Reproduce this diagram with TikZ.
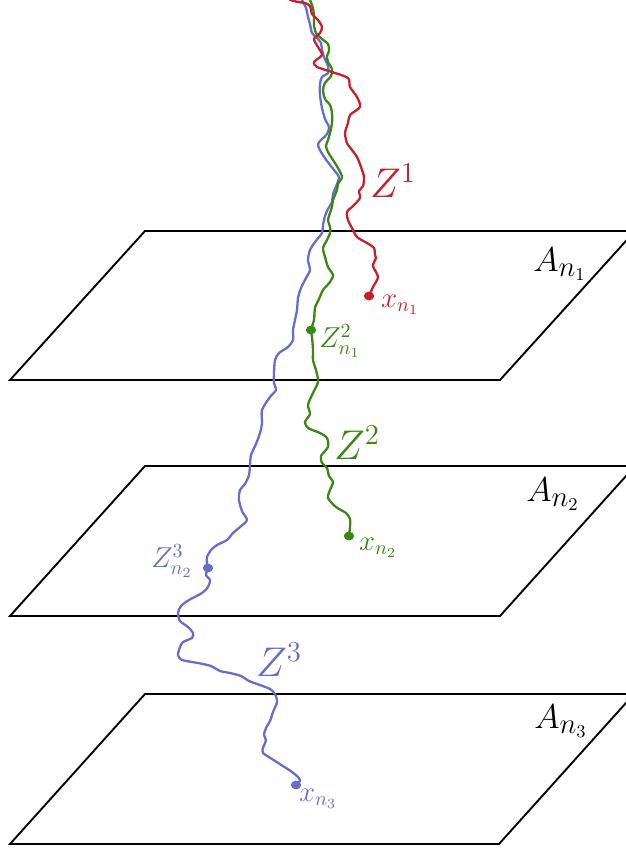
\documentclass[tikz,border=0pt]{standalone}
\usetikzlibrary{shapes.geometric}
\definecolor{zred}{RGB}{200,32,42}
\definecolor{zgreen}{RGB}{58,135,18}
\definecolor{zblue}{RGB}{102,110,204}
\begin{document}
\begin{tikzpicture}[x=0.5pt,y=-0.5pt,
  plane/.style={draw=black,line width=0.95pt,line join=miter},
  walk/.style={line width=1.15pt,line join=round,line cap=round},
  dotnode/.style={ellipse,inner sep=0pt,minimum width=5.2pt,minimum height=4.4pt},
  biglab/.style={inner sep=0pt,font=\fontsize{21}{25}\selectfont},
  planelab/.style={inner sep=0pt,font=\fontsize{19}{23}\selectfont},
  smalllab/.style={inner sep=0pt,font=\fontsize{14}{17}\selectfont}]
\useasboundingbox (0,0) rectangle (626,852);
\clip (0,0) rectangle (626,852);
% planes
\draw[plane] (10,380) -- (500,380) -- (635,231) -- (145,231) -- cycle;
\draw[plane] (10,616) -- (500,616) -- (635,466) -- (145,466) -- cycle;
\draw[plane] (10,844) -- (499,844) -- (634,694) -- (145,694) -- cycle;
% plane labels
\node[planelab] (A1) at (560,264) {$A_{n_1}$};
\node[planelab] (A2) at (553,494) {$A_{n_2}$};
\node[planelab] (A3) at (561,721) {$A_{n_3}$};
% blue walk
\draw[walk,zblue] plot[smooth,tension=0.45] coordinates {
(302,0)(306,8)(308,17)(310,24)(312,33)(317,38)(321,43)(322,50)(324,57)(328,66)(328,73)(322,77)(320,84)(320,95)(322,108)(325,119)(329,127)(327,134)(320,141)(318,145)(321,152)(327,161)(334,170)(339,177)(337,184)(333,194)(332,202)(328,209)(325,216)(323,225)(322,233)(315,242)(310,250)(308,260)(310,270)(306,278)(301,288)(298,298)(297,310)(295,320)(293,330)(293,340)(288,347)(279,353)(275,360)(274,373)(274,383)(276,390)(270,397)(262,410)(262,423)(260,433)(256,444)(251,455)(250,465)(249,475)(245,484)(240,490)(239,500)(242,511)(247,520)(240,527)(233,533)(227,540)(217,545)(211,550)(207,557)(207,563)(208,568)(206,575)(210,580)(208,587)(202,593)(189,600)(181,606)(178,613)(180,621)(188,627)(193,633)(192,638)(183,642)(180,647)(178,655)(182,660)(198,663)(211,666)(220,671)(230,673)(241,676)(249,681)(260,685)(270,689)(275,694)(277,702)(273,712)(270,721)(266,728)(264,735)(266,740)(263,748)(263,753)(272,759)(283,766)(292,772)(298,777)(300,781)(296,785)};
% green walk
\draw[walk,zgreen] plot[smooth,tension=0.45] coordinates {
(310,0)(313,8)(314,17)(314,25)(316,33)(322,39)(328,44)(329,51)(327,56)(328,62)(332,69)(331,76)(325,83)(323,90)(325,99)(330,105)(332,113)(332,123)(330,133)(328,140)(326,146)(328,152)(333,160)(338,168)(342,177)(338,184)(337,190)(333,200)(332,207)(330,213)(328,220)(330,227)(330,233)(327,240)(323,248)(325,257)(328,267)(333,275)(330,282)(323,290)(319,299)(315,308)(314,320)(311,330)(312,337)(313,350)(313,360)(316,370)(318,382)(312,395)(308,405)(310,414)(305,422)(308,428)(320,433)(327,438)(328,447)(321,456)(322,463)(327,468)(329,476)(333,482)(330,490)(328,498)(336,507)(346,513)(350,519)(350,527)(349,536)};
% red walk
\draw[walk,zred] plot[smooth,tension=0.45] coordinates {
(290,0)(298,2)(305,3)(310,6)(312,14)(318,20)(322,27)(320,33)(314,39)(318,47)(322,55)(314,62)(317,67)(332,72)(348,78)(350,87)(357,97)(360,107)(350,115)(348,123)(345,133)(347,143)(352,150)(357,157)(361,167)(364,177)(363,186)(359,191)(360,198)(353,206)(347,212)(348,220)(352,228)(357,237)(367,243)(374,248)(375,255)(376,258)(373,266)(378,277)(373,287)(369,296)};
% dots
\node[dotnode,fill=zred] (xr) at (369,296) {};
\node[dotnode,fill=zgreen] (zg) at (311,330) {};
\node[dotnode,fill=zgreen] (xg) at (349,536) {};
\node[dotnode,fill=zblue] (zb) at (208,568) {};
\node[dotnode,fill=zblue] (xb) at (296,785) {};
% labels
\node[biglab,text=zred] (Z1) at (393,181) {$Z^1$};
\node[biglab,text=zgreen] (Z2) at (357,443) {$Z^2$};
\node[biglab,text=zblue] (Z3) at (279,660) {$Z^3$};
\node[smalllab,text=zred] (lxr) at (400,305) {$x_{n_1}$};
\node[smalllab,text=zgreen] (lzg) at (340,341) {$Z^2_{n_1}$};
\node[smalllab,text=zgreen] (lxg) at (378,548) {$x_{n_2}$};
\node[smalllab,text=zblue] (lzb) at (172,561) {$Z^3_{n_2}$};
\node[smalllab,text=zblue] (lxb) at (318,799) {$x_{n_3}$};
\end{tikzpicture}
\end{document}
